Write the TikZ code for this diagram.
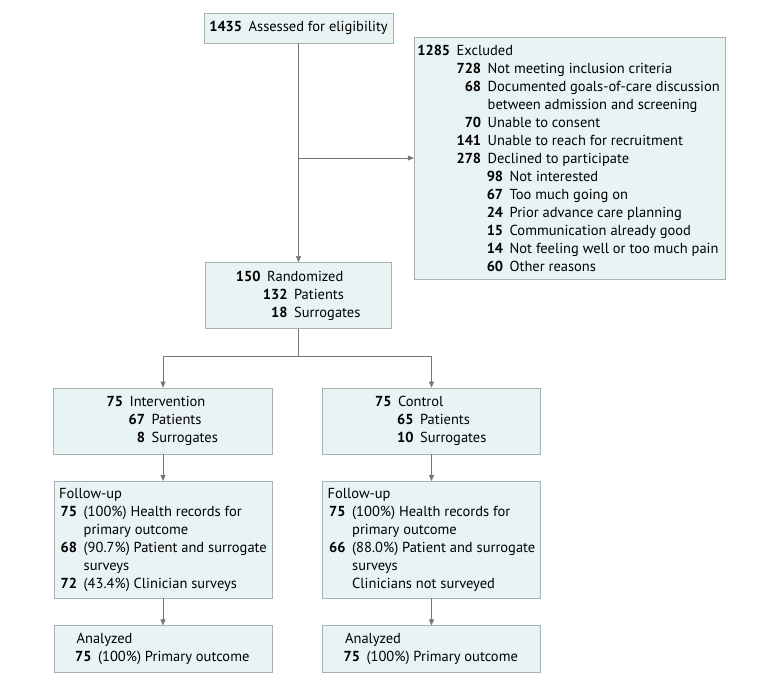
\documentclass[tikz,border=0pt]{standalone}
\usepackage{fontspec}
\setmainfont{PT Sans}
\usetikzlibrary{arrows.meta,positioning}
\definecolor{ctline}{RGB}{168,178,181}
\definecolor{ctlight}{RGB}{232,243,244}
\definecolor{ctarrow}{RGB}{118,118,118}
\newcommand{\flowrow}[3]{\makebox[#1][r]{\textbf{#2}}\hspace{6.5pt}#3}
\newcommand{\flowcont}[2]{\hspace*{#1}\hspace{6.5pt}#2}

\begin{document}
\begin{tikzpicture}[
  stage/.style={draw=ctline, fill=ctlight, align=left, inner sep=5pt, font=\fontsize{14.5}{18}\selectfont},
  arr/.style={draw=ctarrow, -{Triangle[length=6pt,width=5pt]}},
]
\useasboundingbox (0,0) rectangle (780pt,-688pt);
\node[stage, minimum width=185pt, minimum height=30pt] (assess) at (298.5pt,-28pt) {\textbf{1435}\hspace{6.5pt}Assessed for eligibility};
\node[stage, minimum width=311pt, minimum height=242pt] (excl) at (569.5pt,-158pt) {%
\flowrow{31pt}{1285}{Excluded}\\
\flowrow{62pt}{728}{Not meeting inclusion criteria}\\
\flowrow{62pt}{68}{Documented goals-of-care discussion}\\
\flowcont{62pt}{between admission and screening}\\
\flowrow{62pt}{70}{Unable to consent}\\
\flowrow{62pt}{141}{Unable to reach for recruitment}\\
\flowrow{62pt}{278}{Declined to participate}\\
\flowrow{84pt}{98}{Not interested}\\
\flowrow{84pt}{67}{Too much going on}\\
\flowrow{84pt}{24}{Prior advance care planning}\\
\flowrow{84pt}{15}{Communication already good}\\
\flowrow{84pt}{14}{Not feeling well or too much pain}\\
\flowrow{84pt}{60}{Other reasons}};
\node[stage, minimum width=186pt, minimum height=66pt, below=219pt of assess] (rand) {%
\flowrow{24pt}{150}{Randomized}\\
\flowrow{51pt}{132}{Patients}\\
\flowrow{51pt}{18}{Surrogates}};
% two arms
\node[stage, minimum width=219pt, minimum height=66pt, below=59pt of rand, xshift=-135.5pt] (interv) {%
\flowrow{15pt}{75}{Intervention}\\
\flowrow{37pt}{67}{Patients}\\
\flowrow{37pt}{8}{Surrogates}};
\node[stage, minimum width=218pt, minimum height=66pt, below=59pt of rand, xshift=133pt] (ctrl) {%
\flowrow{15pt}{75}{Control}\\
\flowrow{37pt}{65}{Patients}\\
\flowrow{37pt}{10}{Surrogates}};
\node[stage, minimum width=218pt, minimum height=117pt, below=27pt of interv] (fuint) {%
Follow-up\\
\flowrow{18pt}{75}{(100\%) Health records for}\\
\flowcont{18pt}{primary outcome}\\
\flowrow{18pt}{68}{(90.7\%) Patient and surrogate}\\
\flowcont{18pt}{surveys}\\
\flowrow{18pt}{72}{(43.4\%) Clinician surveys}};
\node[stage, minimum width=218pt, minimum height=117pt, below=27pt of ctrl] (fuctrl) {%
Follow-up\\
\flowrow{18pt}{75}{(100\%) Health records for}\\
\flowcont{18pt}{primary outcome}\\
\flowrow{18pt}{66}{(88.0\%) Patient and surrogate}\\
\flowcont{18pt}{surveys}\\
\flowcont{18pt}{Clinicians not surveyed}};
\node[stage, minimum width=218pt, minimum height=47pt, below=27pt of fuint] (anint) {%
Analyzed\\
\flowrow{15pt}{75}{(100\%) Primary outcome}};
\node[stage, minimum width=218pt, minimum height=47pt, below=27pt of fuctrl] (anctrl) {%
Analyzed\\
\flowrow{15pt}{75}{(100\%) Primary outcome}};

\draw[arr] (assess) -- (rand);
\draw[arr] (assess.south |- excl.west) -- (excl.west);
\coordinate[below=28pt of rand] (split);
\draw[ctarrow] (rand) -- (split);
\draw[arr] (split) -| (interv);
\draw[arr] (split) -| (ctrl);
\draw[arr] (interv) -- (fuint);
\draw[arr] (ctrl) -- (fuctrl);
\draw[arr] (fuint) -- (anint);
\draw[arr] (fuctrl) -- (anctrl);
\end{tikzpicture}
\end{document}
